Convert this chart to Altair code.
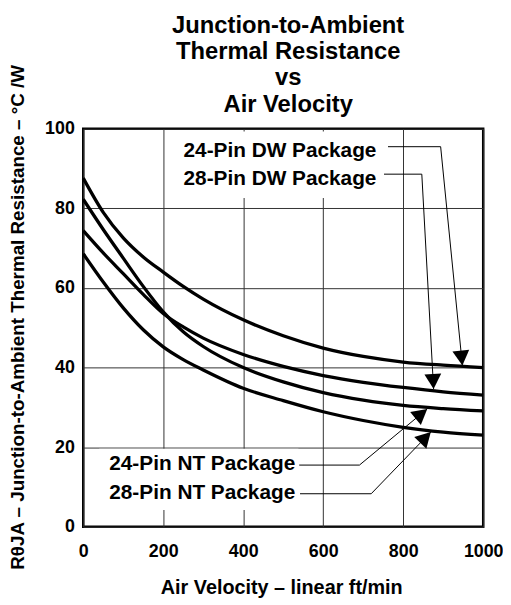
import altair as alt
import pandas as pd

# ---- data ----
velocity = [0, 50, 100, 150, 200, 250, 300, 400, 500, 600, 700, 800, 900, 1000]
r_24dw = [87.6, 79.0, 72.6, 67.8, 64.0, 60.4, 57.2, 52.0, 48.0, 44.9, 42.8, 41.4, 40.6, 40.0]
r_28dw = [74.4, 68.8, 63.6, 58.4, 53.6, 50.2, 47.4, 43.3, 40.3, 38.0, 36.3, 35.0, 33.9, 33.1]
r_24nt = [82.3, 74.7, 67.5, 60.4, 54.0, 49.0, 45.3, 40.0, 36.4, 33.7, 31.8, 30.5, 29.7, 29.1]
r_28nt = [68.6, 61.5, 55.0, 49.5, 45.2, 42.0, 39.4, 34.8, 31.7, 28.9, 26.7, 25.0, 23.8, 23.0]
series_names = ["24-Pin DW", "28-Pin DW", "24-Pin NT", "28-Pin NT"]

x_ticks = [0, 200, 400, 600, 800, 1000]
y_ticks = [0, 20, 40, 60, 80, 100]

# annotation labels (data coordinates)
label_text = ["24-Pin DW Package", "28-Pin DW Package", "24-Pin NT Package", "28-Pin NT Package"]
label_x = [733, 733, 530, 530]
label_y = [94.3, 87.3, 15.7, 8.5]

# leader lines (label -> curve), arrow tip at the last point
leader_x = [[762, 893.6, 948], [752, 846.5, 876], [540, 690.6, 860], [542, 720, 869]]
leader_y = [[95.5, 95.5, 40.5], [88.6, 88.6, 34.6], [15.5, 15.5, 29.6], [8.3, 8.3, 23.8]]
arrow_angle = [354, 357, 230.5, 224]

# white label backgrounds (grid is interrupted behind labels)
box_x = [225, 40]
box_x2 = [748, 538]
box_y = [82.6, 4.2]
box_y2 = [99.3, 19.6]

FONT = "Liberation Sans"

# ---- tables ----
curves = pd.DataFrame(
    [
        {"v": v, "r": r, "s": name}
        for name, vals in zip(series_names, [r_24dw, r_28dw, r_24nt, r_28nt])
        for v, r in zip(velocity, vals)
    ]
)
labels = pd.DataFrame({"t": label_text, "x": label_x, "y": label_y})
leaders = pd.DataFrame(
    [
        {"id": i, "seq": j, "x": xx, "y": yy}
        for i, (xs, ys) in enumerate(zip(leader_x, leader_y))
        for j, (xx, yy) in enumerate(zip(xs, ys))
    ]
)
arrows = pd.DataFrame(
    {"x": [xs[-1] for xs in leader_x], "y": [ys[-1] for ys in leader_y], "a": arrow_angle}
)
boxes = pd.DataFrame({"x": box_x, "x2": box_x2, "y": box_y, "y2": box_y2})

xscale = alt.Scale(domain=[0, 1000], nice=False, zero=True)
yscale = alt.Scale(domain=[0, 100], nice=False, zero=True)

x_axis = alt.Axis(
    values=x_ticks,
    format="d",
    title="Air Velocity – linear ft/min",
    labelPadding=16,
    titleFontSize=20,
    titleX=200,
    titleY=61,
    titleBaseline="middle",
    labelFlush=False,
)
y_axis = alt.Axis(
    values=y_ticks,
    format="d",
    title="RθJA – Junction-to-Ambient Thermal Resistance – °C /W",
    labelPadding=9,
    titleFontSize=19,
    titleX=-66,
    titleY=190,
    titleAngle=-90,
    titleBaseline="middle",
    titleAlign="center",
    labelFlush=False,
)

box_layer = alt.Chart(boxes).mark_rect(color="white").encode(
    x=alt.X("x:Q", scale=xscale, axis=x_axis),
    x2="x2:Q",
    y=alt.Y("y:Q", scale=yscale, axis=y_axis),
    y2="y2:Q",
)

curve_layer = alt.Chart(curves).mark_line(
    color="black", strokeWidth=3.3, interpolate="monotone"
).encode(
    x=alt.X("v:Q", scale=xscale),
    y=alt.Y("r:Q", scale=yscale),
    detail="s:N",
    order="v:Q",
)

leader_layer = alt.Chart(leaders).mark_line(color="black", strokeWidth=1).encode(
    x=alt.X("x:Q", scale=xscale),
    y=alt.Y("y:Q", scale=yscale),
    detail="id:N",
    order="seq:Q",
)

arrow_layer = alt.Chart(arrows).mark_point(
    shape="M0,0L-1,-1.8L1,-1.8Z", filled=True, size=289, color="black", opacity=1
).encode(
    x=alt.X("x:Q", scale=xscale),
    y=alt.Y("y:Q", scale=yscale),
    angle=alt.Angle("a:Q", scale=None),
)

text_layer = alt.Chart(labels).mark_text(
    font=FONT, fontSize=21, fontWeight="bold", align="right", baseline="middle", color="black"
).encode(
    x=alt.X("x:Q", scale=xscale),
    y=alt.Y("y:Q", scale=yscale),
    text="t:N",
)

chart = (
    alt.layer(box_layer, curve_layer, leader_layer, arrow_layer, text_layer)
    .properties(
        width=404,
        height=402,
        title=alt.Title(
            ["Junction-to-Ambient", "Thermal Resistance", "vs", "Air Velocity"],
            font=FONT,
            fontSize=24,
            fontWeight="bold",
            lineHeight=26.5,
            anchor="middle",
            frame="group",
            dx=5,
            offset=-53,
            color="black",
        ),
        autosize=alt.AutoSizeParams(type="none"),
        padding={"left": 76, "top": 119, "right": 20, "bottom": 75},
    )
    .configure_view(stroke="black", strokeWidth=2.5)
    .configure_axis(
        grid=True,
        gridColor="#333333",
        gridWidth=1,
        gridOpacity=1,
        domain=False,
        ticks=False,
        labelFont=FONT,
        labelFontSize=18,
        labelFontWeight="bold",
        labelColor="black",
        titleFont=FONT,
        titleFontWeight="bold",
        titleColor="black",
    )
)

chart.save("out.html", embed_options={"renderer": "svg", "actions": False})
